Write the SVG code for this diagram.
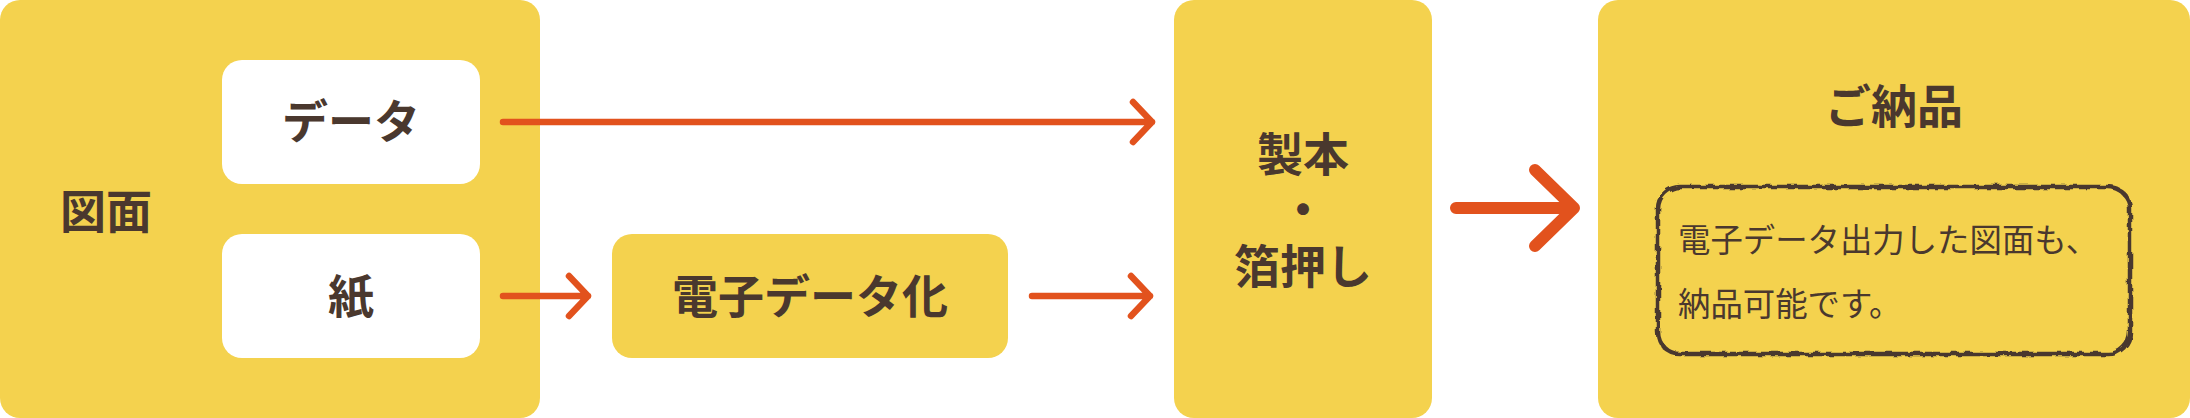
<svg xmlns="http://www.w3.org/2000/svg" width="2190" height="418" viewBox="0 0 2190 418">
<style>
.y{fill:#f4d24e}.w{fill:#fff}
text{font-family:"Noto Sans CJK JP","Noto Sans",sans-serif;fill:#4a382e;text-anchor:middle}
.b{font-size:46px;font-weight:700}
.s{font-size:32.4px;font-weight:400;text-anchor:start}
.c{fill:none;stroke:#e2521d;stroke-width:6.5;stroke-linecap:round;stroke-linejoin:round}
.big{stroke-width:12}
</style>
<defs><filter id="rough" x="-5%" y="-10%" width="110%" height="120%"><feTurbulence type="fractalNoise" baseFrequency="0.14" numOctaves="1" seed="7"/><feDisplacementMap in="SourceGraphic" scale="6"/></filter></defs>
<g id="node-zumen"><rect class="y" x="0" y="0" width="540" height="418" rx="20"/><text class="b" x="106" y="228">図面</text></g>
<g id="node-data"><rect class="w" x="222" y="60" width="258" height="124" rx="20"/><text class="b" x="351" y="138">データ</text></g>
<g id="node-paper"><rect class="w" x="222" y="234" width="258" height="124" rx="20"/><text class="b" x="351" y="313">紙</text></g>
<g id="node-digitize"><rect class="y" x="612" y="234" width="396" height="124" rx="20"/><text class="b" x="810" y="313">電子データ化</text></g>
<g id="node-binding"><rect class="y" x="1174" y="0" width="258" height="418" rx="20"/><text class="b"><tspan x="1303" y="171">製本</tspan><tspan x="1303" y="226">・</tspan><tspan x="1303" y="283">箔押し</tspan></text></g>
<g id="node-delivery"><rect class="y" x="1598" y="0" width="592" height="418" rx="20"/><text class="b" x="1894" y="123">ご納品</text>
<rect x="1658" y="187" width="472" height="167" rx="22" fill="none" stroke="#4a382e" stroke-width="4.5" filter="url(#rough)"/>
<text class="s" x="1678" y="252">電子データ出力した図面も、</text><text class="s" x="1678" y="316">納品可能です。</text></g>
<g id="connectors">
<path class="c" d="M503 122H1152M1133 102L1152 122L1133 142"/>
<path class="c" d="M503 296H588M569 276L588 296L569 316"/>
<path class="c" d="M1032 296H1150M1131 276L1150 296L1131 316"/>
<path class="c big" d="M1456 208H1574M1535 170L1574 208L1535 246"/>
</g>
</svg>
